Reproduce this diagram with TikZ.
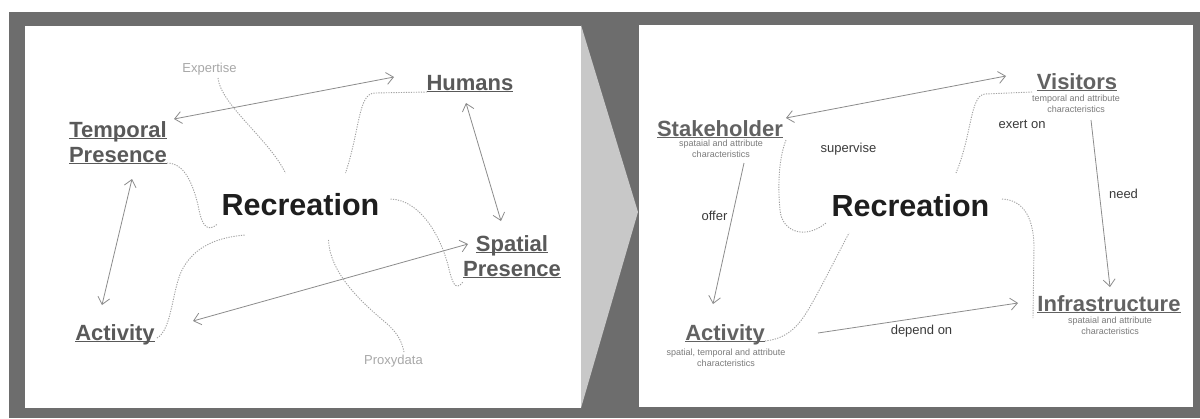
\documentclass[tikz,border=0pt]{standalone}
\usepackage{fontspec}
\setmainfont{Liberation Sans}
\usetikzlibrary{arrows.meta}
\definecolor{framegray}{HTML}{6D6D6D}
\definecolor{chevgray}{HTML}{C8C8C8}
\definecolor{lbl}{HTML}{595959}
\definecolor{lblr}{HTML}{626262}
\definecolor{reccol}{HTML}{1E1E1E}
\definecolor{arrcol}{HTML}{8C8C8C}
\definecolor{dotcol}{HTML}{A0A0A0}
\definecolor{faint}{HTML}{A8A8A8}
\definecolor{subcol}{HTML}{7A7A7A}
\definecolor{relcol}{HTML}{3A3A3A}
\newcommand\ulbox[1]{\setbox0=\hbox{#1}\rlap{\rule[-2.2pt]{\wd0}{1.3pt}}\box0}
\begin{document}
\begin{tikzpicture}[x=1pt,y=-1pt,
  concept/.style={inner sep=0pt,anchor=base,text=lbl,font=\fontsize{22}{25}\selectfont\bfseries},
  conceptr/.style={concept,text=lblr},
  recbox/.style={inner sep=0pt,anchor=base,text=reccol,font=\fontsize{30.5}{36}\selectfont\bfseries},
  faintlbl/.style={inner sep=0pt,anchor=base,text=faint,font=\fontsize{13}{15}\selectfont},
  subtxt/.style={inner sep=0pt,anchor=base,text=subcol,font=\fontsize{9}{11}\selectfont},
  rel/.style={inner sep=0pt,anchor=base,text=relcol,font=\fontsize{13}{15}\selectfont},
  link/.style={draw=arrcol,line width=0.8pt},
  both/.style={link,{Straight Barb[length=7pt,width=12pt]}-{Straight Barb[length=7pt,width=12pt]}},
  fwd/.style={link,-{Straight Barb[length=7pt,width=12pt]}},
  dotted link/.style={draw=dotcol,line width=0.9pt,dash pattern=on 1.2pt off 1.3pt}
]
% background and panels
\useasboundingbox (0,0) rectangle (1200,418);
\fill[white] (0,0) rectangle (1200,418);
\fill[framegray] (9,12) rectangle (1200,418);
\fill[white] (25,26) rectangle (581,408);
\fill[chevgray] (581,25) -- (638,212) -- (581,408) -- cycle;
\fill[white] (639,25) rectangle (1193,407);

% ---------------- left panel ----------------
\node[recbox] (rec1) at (300.5,215) {Recreation};
\node[concept] (tp) at (118,137) {\begin{tabular}[t]{@{}c@{}}\ulbox{Temporal}\\\ulbox{Presence}\end{tabular}};
\node[concept] (hum) at (470,90) {\ulbox{Humans}};
\node[concept] (sp) at (512,251) {\begin{tabular}[t]{@{}c@{}}\ulbox{Spatial}\\\ulbox{Presence}\end{tabular}};
\node[concept] (act) at (115,340) {\ulbox{Activity}};
\node[faintlbl] (exp) at (209.5,72) {Expertise};
\node[faintlbl] (prx) at (393.5,364) {Proxydata};

\draw[both] ([shift={(56,-18)}]tp.base) -- ([shift={(-76,-13)}]hum.base);
\draw[both] ([shift={(-4,13)}]hum.base) -- ([shift={(-11,-30)}]sp.base);
\draw[both] ([shift={(14,42)}]tp.base) -- ([shift={(-13,-35)}]act.base);
\draw[both] ([shift={(78,-19)}]act.base) -- ([shift={(-44,-7)}]sp.base);

\draw[dotted link] ([shift={(8.5,6)}]exp.base) .. controls (221,105) and (268,138) .. ([shift={(-15,-42)}]rec1.base);
\draw[dotted link] ([shift={(-43,2)}]hum.base) -- (375,93) .. controls (358,93) and (360,130) .. ([shift={(45,-42)}]rec1.base);
\draw[dotted link] ([shift={(49,26)}]tp.base) .. controls (185,163) and (193,185) .. (198,205) .. controls (202,228) and (208,232) .. ([shift={(-83,9)}]rec1.base);
\draw[dotted link] ([shift={(42,-2)}]act.base) .. controls (172,330) and (172,290) .. (182,270) .. controls (195,245) and (220,237) .. ([shift={(-55,20)}]rec1.base);
\draw[dotted link] ([shift={(90,-16)}]rec1.base) .. controls (420,200) and (440,235) .. (448,265) .. controls (452,282) and (455,292) .. ([shift={(-49,31)}]sp.base);
\draw[dotted link] ([shift={(28,25)}]rec1.base) .. controls (330,275) and (365,305) .. (385,322) .. controls (398,333) and (402,342) .. ([shift={(10.5,-12)}]prx.base);

% ---------------- right panel ----------------
\node[recbox] (rec2) at (910.5,216) {Recreation};
\node[conceptr] (stk) at (720,136) {\ulbox{Stakeholder}};
\node[subtxt] (stks) at (721,146) {\begin{tabular}[t]{@{}c@{}}spataial and attribute\\characteristics\end{tabular}};
\node[conceptr] (vis) at (1077,89) {\ulbox{Visitors}};
\node[subtxt] (viss) at (1076,101) {\begin{tabular}[t]{@{}c@{}}temporal and attribute\\characteristics\end{tabular}};
\node[conceptr] (inf) at (1109,311) {\ulbox{Infrastructure}};
\node[subtxt] (infs) at (1110,323) {\begin{tabular}[t]{@{}c@{}}spataial and attribute\\characteristics\end{tabular}};
\node[conceptr] (act2) at (725,340) {\ulbox{Activity}};
\node[subtxt] (act2s) at (726,355) {\begin{tabular}[t]{@{}c@{}}spatial, temporal and attribute\\characteristics\end{tabular}};

\node[rel] (lsup) at (848.5,152) {supervise};
\node[rel] (lexe) at (1022,128) {exert on};
\node[rel] (lneed) at (1123.5,198) {need};
\node[rel] (loff) at (714.5,220) {offer};
\node[rel] (ldep) at (921.5,334) {depend on};

\draw[both] ([shift={(66,-18)}]stk.base) -- ([shift={(-71,-13)}]vis.base);
\draw[fwd] ([shift={(24,27)}]stk.base) -- ([shift={(-12,-36)}]act2.base);
\draw[fwd] ([shift={(14,31)}]vis.base) -- ([shift={(1,-24)}]inf.base);
\draw[fwd] ([shift={(93,-7)}]act2.base) -- ([shift={(-91,-8)}]inf.base);

\draw[dotted link] ([shift={(-45,3)}]vis.base) -- (985,94) .. controls (970,95) and (972,135) .. ([shift={(45.5,-43)}]rec2.base);
\draw[dotted link] ([shift={(66,4)}]stk.base) .. controls (778,160) and (778,190) .. (780,210) .. controls (782,232) and (805,240) .. ([shift={(-84.5,7)}]rec2.base);
\draw[dotted link] ([shift={(40,1)}]act2.base) .. controls (795,338) and (805,315) .. (815,298) .. controls (830,270) and (840,250) .. ([shift={(-61.5,17)}]rec2.base);
\draw[dotted link] ([shift={(91.5,-17)}]rec2.base) .. controls (1022,200) and (1033,215) .. (1034,245) -- ([shift={(-76,7)}]inf.base);
\end{tikzpicture}
\end{document}
